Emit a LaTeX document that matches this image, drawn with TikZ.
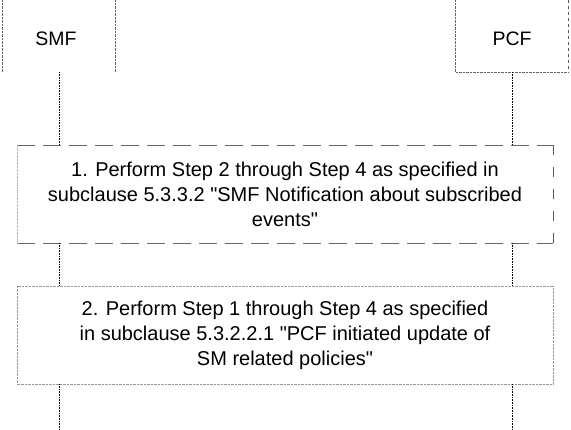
\documentclass[tikz,border=0pt]{standalone}
\usepackage{fontspec}
\setmainfont{Liberation Sans}
\begin{document}
\begin{tikzpicture}[x=1pt,y=-1pt,
  life/.style={densely dotted,line width=0.6pt},
  stepbox/.style={minimum width=536pt,minimum height=98pt,align=center,font=\fontsize{20}{25}\selectfont,inner sep=0pt},
  entity/.style={font=\fontsize{19.5}{22}\selectfont}]
\useasboundingbox (0,0) rectangle (571,430);
% SMF header
\draw[densely dotted,gray!80!black] (2,0) -- (2,72);
\draw[densely dotted,gray!80!black] (115,0) -- (115,72);
\node[entity] (smf) at (56,39) {SMF};
% PCF header
\draw[densely dotted,gray!80!black] (455,0) -- (455,72) -- (568,72);
\draw[dashed,gray!70!black,line width=0.8pt] (568,0) -- (568,72);
\node[entity] (pcf) at (512,39) {PCF};
\coordinate (smfb) at (59,72);
\coordinate (pcfb) at (512,72);
% step boxes
\node[stepbox] (s1) at (285,194) {1. Perform Step 2 through Step 4 as specified in\\subclause 5.3.3.2 \textquotedbl SMF Notification about subscribed\\events\textquotedbl};
\draw[dashed,dash pattern=on 18pt off 8pt,gray!80!black] (s1.north west) -- (s1.north east);
\draw[dashed,dash pattern=on 18pt off 8pt,gray!80!black] (s1.south west) -- (s1.south east);
\draw[densely dotted,gray!60] (s1.north west) -- (s1.south west);
\draw[dashed,dash pattern=on 10pt off 12pt,gray!70!black] (s1.north east) -- (s1.south east);
\node[stepbox] (s2) at (285,335) {2. Perform Step 1 through Step 4 as specified\\in subclause 5.3.2.2.1 \textquotedbl PCF initiated update of\\SM related policies\textquotedbl};
\draw[densely dotted,gray!80] (s2.north west) rectangle (s2.south east);
% lifelines
\coordinate (smfe) at (59,430);
\coordinate (pcfe) at (512,430);
\draw[life] (smfb) -- (smfb |- s1.north);
\draw[life] (pcfb) -- (pcfb |- s1.north);
\draw[life] (smfb |- s1.south) -- (smfb |- s2.north);
\draw[life] (pcfb |- s1.south) -- (pcfb |- s2.north);
\draw[life] (smfb |- s2.south) -- (smfe);
\draw[life] (pcfb |- s2.south) -- (pcfe);
\end{tikzpicture}
\end{document}
